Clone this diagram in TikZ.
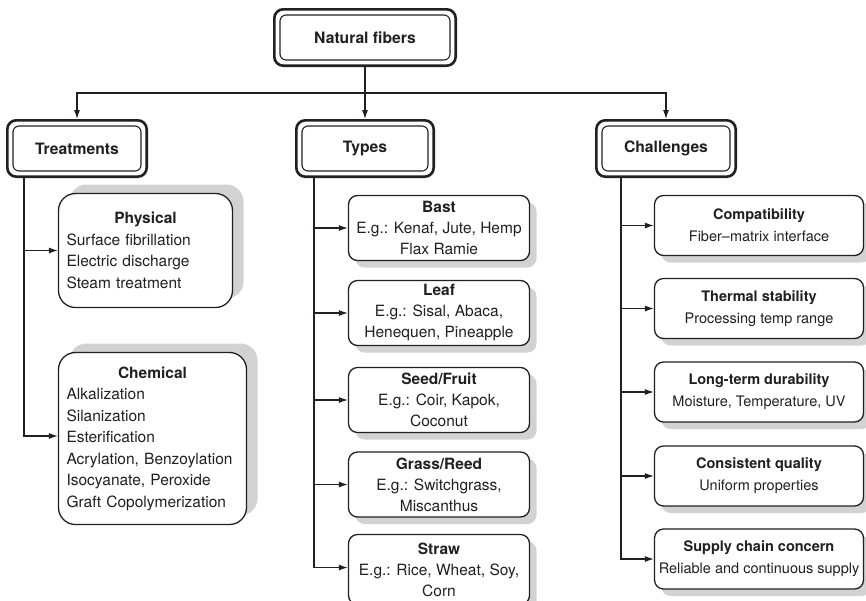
\documentclass[tikz,border=0pt]{standalone}
\usepackage{fontspec}
\setmainfont{TeX Gyre Heros}
\usetikzlibrary{arrows.meta,shadows}
\definecolor{ink}{HTML}{231F20}
\definecolor{shade}{HTML}{D2D2D2}
\begin{document}
\begin{tikzpicture}[x=1pt,y=-1pt,
  every node/.style={text=ink},
  hdr/.style={draw=ink, line width=2.6pt, rounded corners=9pt, minimum height=56.4pt,
    font=\fontsize{15.7}{18}\selectfont\bfseries, inner sep=0pt, fill=white},
  inbox/.style={draw=ink, line width=1.1pt, rounded corners=6pt},
  treatbox/.style={draw=ink, line width=1.3pt, rounded corners=17pt, fill=white,
    font=\fontsize{15.5}{21.5}\selectfont, align=left, inner xsep=8pt, inner ysep=0pt,
    drop shadow={shadow xshift=11pt, shadow yshift=9pt, fill=shade, opacity=1}},
  typebox/.style={draw=ink, line width=1.3pt, rounded corners=9pt, fill=white,
    minimum width=181pt, minimum height=65pt, inner sep=0pt,
    font=\fontsize{15.5}{21}\selectfont, align=center,
    drop shadow={shadow xshift=7pt, shadow yshift=-7pt, fill=shade, opacity=1}},
  chalbox/.style={draw=ink, line width=1.3pt, rounded corners=9pt, fill=white,
    minimum width=209pt, minimum height=60pt, inner sep=0pt,
    font=\fontsize{14.5}{22}\selectfont, align=center,
    drop shadow={shadow xshift=7pt, shadow yshift=-7pt, fill=shade, opacity=1}},
  conn/.style={draw=ink, line width=1.1pt, -{Latex[length=9pt,width=6pt]}},
  trunk/.style={draw=ink, line width=1.1pt}
]
\useasboundingbox (0,0) rectangle (866,600);

% header boxes
\node[hdr, minimum width=181.4pt] (nf) at (365,37.5) {Natural fibers};
\node[hdr, minimum width=139.4pt] (treat) at (77,148.5) {Treatments};
\node[hdr, minimum width=137.4pt] (types) at (365,148.5) {Types};
\node[hdr, minimum width=139.4pt] (chall) at (666,148.5) {Challenges};
\foreach \n in {nf,treat,types,chall}
  \draw[inbox] ([shift={(7,7)}]\n.north west) rectangle ([shift={(-7,-7)}]\n.south east);

% treatments children
\node[treatbox, text width=158pt, minimum height=114pt] (phys) at (145.5,250.5)
  {\makebox[158pt]{\bfseries Physical}\\Surface fibrillation\\Electric discharge\\Steam treatment};
\node[treatbox, text width=172pt, minimum height=172pt] (chem) at (152.5,438.5)
  {\makebox[172pt]{\bfseries Chemical}\\Alkalization\\Silanization\\Esterification\\Acrylation, Benzoylation\\Isocyanate, Peroxide\\Graft Copolymerization};

% types children
\node[typebox] (bast) at (439,228) {\textbf{Bast}\\E.g.: Kenaf, Jute, Hemp\\Flax Ramie};
\node[typebox] (leaf) at (439,313) {\textbf{Leaf}\\E.g.: Sisal, Abaca,\\Henequen, Pineapple};
\node[typebox] (seed) at (439,400) {\textbf{Seed/Fruit}\\E.g.: Coir, Kapok,\\Coconut};
\node[typebox] (grass) at (439,484.5) {\textbf{Grass/Reed}\\E.g.: Switchgrass,\\Miscanthus};
\node[typebox, minimum height=70pt] (straw) at (439,569.5) {\textbf{Straw}\\E.g.: Rice, Wheat, Soy,\\Corn};

% challenges children
\node[chalbox] (comp) at (759,225.5) {\textbf{Compatibility}\\Fiber–matrix interface};
\node[chalbox] (therm) at (759,308.5) {\textbf{Thermal stability}\\Processing temp range};
\node[chalbox] (dur) at (759,392) {\textbf{Long-term durability}\\Moisture, Temperature, UV};
\node[chalbox] (qual) at (759,476) {\textbf{Consistent quality}\\Uniform properties};
\node[chalbox] (supp) at (759,559) {\textbf{Supply chain concern}\\Reliable and continuous supply};

% top connectors
\coordinate (j) at (365,93);
\draw[conn] (nf.south) -- (types.north);
\draw[conn] (j) -| (treat.north);
\draw[conn] (j) -| (chall.north);

% trunks
\coordinate (tt) at (24,178);
\coordinate (ty) at (314,178);
\coordinate (tc) at (621,178);
\draw[conn] (tt) |- (phys.west);
\draw[conn] (tt) |- ([yshift=2.5pt]chem.west);
\foreach \n in {bast,leaf,seed,grass}
  \draw[conn] (ty) |- (\n.west);
\draw[conn] (ty) |- ([yshift=2pt]straw.west);
\foreach \n in {comp,therm,dur,qual,supp}
  \draw[conn] (tc) |- (\n.west);
\end{tikzpicture}
\end{document}
